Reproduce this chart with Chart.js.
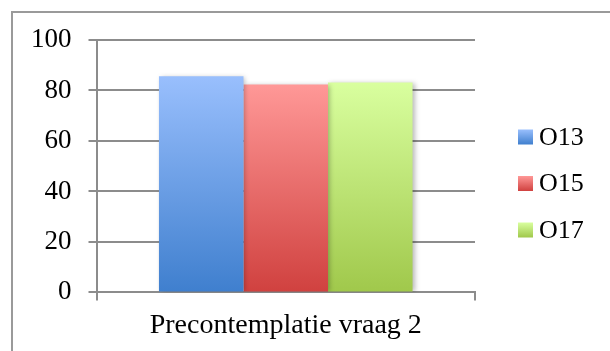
<!DOCTYPE html>
<html>
<head>
<meta charset="utf-8">
<script src="https://cdn.jsdelivr.net/npm/chart.js@4.4.1/dist/chart.umd.min.js"></script>
<style>
  html, body { margin: 0; padding: 0; background: #fff; overflow: hidden; }
  #wrap { width: 610px; height: 351px; position: relative; }
</style>
</head>
<body>
<div id="wrap"><canvas id="chart" width="610" height="351"></canvas></div>
<script>
var categories = ['Precontemplatie vraag 2'];
var seriesNames = ['O13', 'O15', 'O17'];
var o13 = [85.6];
var o15 = [82.4];
var o17 = [83.2];
var yTicks = [0, 20, 40, 60, 80, 100];

// top / bottom colour of each series gradient
var topColors = ['#99bffd', '#ff9897', '#d9ff9f'];
var bottomColors = ['#3f7fce', '#d0413f', '#a0c84b'];

function barGradient(i) {
    return function (c) {
        var chart = c.chart;
        var area = chart.chartArea;
        if (!area) return topColors[i];
        var y = chart.scales.y;
        var v = c.raw == null ? 100 : c.raw;
        var g = chart.ctx.createLinearGradient(0, y.getPixelForValue(v), 0, y.getPixelForValue(0));
        g.addColorStop(0, topColors[i]);
        g.addColorStop(1, bottomColors[i]);
        return g;
    };
}

var frame = {
    id: 'frame',
    beforeDraw: function (chart) {
        var ctx = chart.ctx;
        ctx.save();
        ctx.strokeStyle = '#9a9a9a';
        ctx.lineWidth = 2;
        ctx.strokeRect(12, 12, 700, 400);
        ctx.restore();
    }
};

var barShadow = {
    id: 'barShadow',
    beforeDatasetsDraw: function (chart) {
        var ctx = chart.ctx;
        ctx.save();
        ctx.shadowColor = 'rgba(0,0,0,0.28)';
        ctx.shadowBlur = 5;
        ctx.shadowOffsetX = 2;
        ctx.shadowOffsetY = 1;
    },
    afterDatasetsDraw: function (chart) {
        chart.ctx.restore();
    }
};

var sideLegend = {
    id: 'sideLegend',
    afterDraw: function (chart) {
        var ctx = chart.ctx;
        var x = 518, y0 = 137, step = 46.5, s = 15;
        ctx.save();
        chart.data.datasets.forEach(function (ds, i) {
            var cy = y0 + i * step;
            var g = ctx.createLinearGradient(0, cy - s / 2, 0, cy + s / 2);
            g.addColorStop(0, topColors[i]);
            g.addColorStop(1, bottomColors[i]);
            ctx.fillStyle = g;
            ctx.fillRect(x, cy - s / 2, s, s);
            ctx.fillStyle = '#000';
            ctx.font = '26px "Liberation Serif"';
            ctx.textBaseline = 'middle';
            ctx.fillText(ds.label, x + 21, cy + 1);
        });
        ctx.restore();
    }
};

var ctx = document.getElementById('chart').getContext('2d');
var myChart = new Chart(ctx, {
    type: 'bar',
    data: {
        labels: categories,
        datasets: [
            { label: seriesNames[0], data: o13, backgroundColor: barGradient(0) },
            { label: seriesNames[1], data: o15, backgroundColor: barGradient(1) },
            { label: seriesNames[2], data: o17, backgroundColor: barGradient(2) }
        ]
    },
    options: {
        responsive: false,
        animation: false,
        layout: { padding: { left: 14, top: 40, right: 135, bottom: 1 } },
        datasets: {
            bar: { categoryPercentage: 0.67, barPercentage: 1.0, borderWidth: 0 }
        },
        plugins: {
            legend: { display: false },
            tooltip: { enabled: false }
        },
        scales: {
            x: {
                grid: { offset: true, drawOnChartArea: false, tickLength: 8, color: '#8c8c8c', lineWidth: 2 },
                border: { color: '#8c8c8c', width: 2 },
                ticks: { color: '#000', padding: 8, font: { family: 'Liberation Serif', size: 28 } }
            },
            y: {
                min: 0,
                max: 100,
                afterBuildTicks: function (axis) {
                    axis.ticks = yTicks.map(function (v) { return { value: v }; });
                },
                grid: { color: '#8c8c8c', lineWidth: 2, tickLength: 8 },
                border: { color: '#8c8c8c', width: 2 },
                ticks: { color: '#000', padding: 17, font: { family: 'Liberation Serif', size: 27 } }
            }
        }
    },
    plugins: [frame, barShadow, sideLegend]
});
</script>
</body>
</html>
